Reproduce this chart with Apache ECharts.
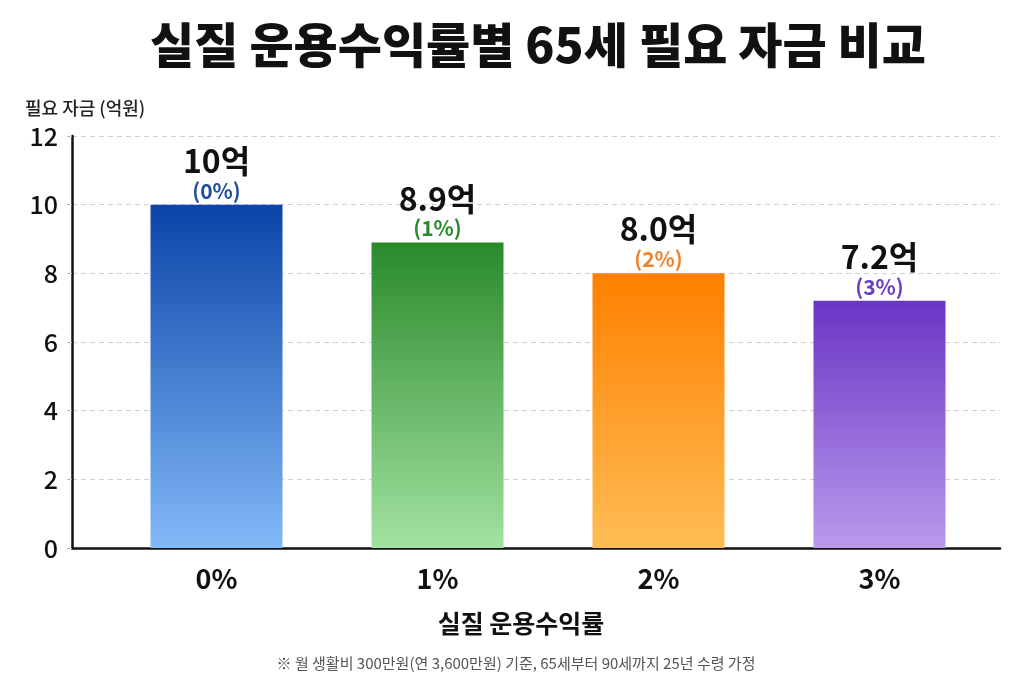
<!DOCTYPE html>
<html>
<head>
<meta charset="utf-8">
<title>실질 운용수익률별 65세 필요 자금 비교</title>
<script src="https://cdn.jsdelivr.net/npm/echarts@6/dist/echarts.min.js"></script>
<style>
  html, body { margin: 0; padding: 0; background: #fff; }
  #chart { width: 1024px; height: 683px; }
</style>
</head>
<body>
<div id="chart"></div>
<script>
  // 데이터
  const categories = ['0%', '1%', '2%', '3%']
  const values = [10, 8.9, 8.0, 7.2]
  const valueLabels = ['10억', '8.9억', '8.0억', '7.2억']
  const yTicks = [0, 2, 4, 6, 8, 10, 12]

  // 막대 색 (위 -> 아래 그라디언트)
  const topColors = ['#0a44a8', '#2a8a2a', '#ff8000', '#6a35c5']
  const bottomColors = ['#82b9f8', '#a2e2a2', '#ffbd55', '#b99aec']
  const pctColors = ['#1f4c9c', '#2a8a2a', '#f0822a', '#6a3cc0']

  const font = '"Noto Sans CJK KR", "Noto Sans", sans-serif'

  let chart = echarts.init(document.getElementById('chart'))

  chart.setOption({
    backgroundColor: '#fff',
    textStyle: { fontFamily: font },
    title: [
      {
        text: '실질 운용수익률별 65세 필요 자금 비교',
        left: 533,
        top: 16,
        textAlign: 'center',
        textStyle: { fontFamily: font, fontSize: 48, fontWeight: 900, color: '#111' }
      },
      {
        text: '필요 자금 (억원)',
        left: 20,
        top: 94,
        textStyle: { fontFamily: font, fontSize: 18, fontWeight: 500, color: '#222' }
      },
      {
        text: '실질 운용수익률',
        left: 516,
        top: 606,
        textAlign: 'center',
        textStyle: { fontFamily: font, fontSize: 25, fontWeight: 700, color: '#111' }
      },
      {
        text: '※ 월 생활비 300만원(연 3,600만원) 기준, 65세부터 90세까지 25년 수령 가정',
        left: 511,
        top: 651,
        textAlign: 'center',
        textStyle: { fontFamily: font, fontSize: 15, fontWeight: 400, color: '#555' }
      }
    ],
    grid: [
      // 막대용
      { left: 106, right: 34, top: 136, bottom: 135 },
      // 축선, 눈금선용
      { left: 72, right: 24, top: 136, bottom: 135 }
    ],
    xAxis: [
      {
        type: 'category',
        gridIndex: 0,
        data: categories,
        axisLine: { show: false },
        axisTick: { show: false },
        axisLabel: {
          margin: 17,
          fontFamily: font,
          fontSize: 27,
          fontWeight: 700,
          color: '#111'
        }
      },
      {
        type: 'value',
        gridIndex: 1,
        min: 0,
        max: 1,
        axisLine: { show: true, lineStyle: { color: '#111', width: 2.5 } },
        axisTick: { show: false },
        axisLabel: { show: false },
        splitLine: { show: false }
      }
    ],
    yAxis: [
      {
        type: 'value',
        gridIndex: 0,
        min: yTicks[0],
        max: yTicks[yTicks.length - 1],
        interval: 2,
        show: false
      },
      {
        type: 'value',
        gridIndex: 1,
        min: yTicks[0],
        max: yTicks[yTicks.length - 1],
        interval: 2,
        axisLine: { show: true, lineStyle: { color: '#111', width: 2.5 } },
        axisTick: { show: true, length: 5, lineStyle: { color: '#bbb' } },
        axisLabel: {
          margin: 14,
          fontFamily: font,
          fontSize: 25,
          fontWeight: 500,
          color: '#111'
        },
        splitLine: {
          show: true,
          lineStyle: { color: '#cfcfcf', type: [5, 4], width: 1 }
        }
      }
    ],
    series: [
      {
        type: 'bar',
        xAxisIndex: 0,
        yAxisIndex: 0,
        barWidth: 132,
        data: values.map((v, i) => ({
          value: v,
          itemStyle: {
            color: new echarts.graphic.LinearGradient(0, 0, 0, 1, [
              { offset: 0, color: topColors[i] },
              { offset: 1, color: bottomColors[i] }
            ])
          },
          label: {
            formatter: '{v|' + valueLabels[i] + '}\n{p|(' + categories[i] + ')}',
            rich: {
              v: { fontFamily: font, fontSize: 32, fontWeight: 700, color: '#111', lineHeight: 34 },
              p: { fontFamily: font, fontSize: 21, fontWeight: 600, color: pctColors[i], lineHeight: 26 }
            }
          }
        })),
        label: {
          show: true,
          position: 'top',
          distance: 1,
          align: 'center'
        }
      }
    ]
  })
</script>
</body>
</html>
